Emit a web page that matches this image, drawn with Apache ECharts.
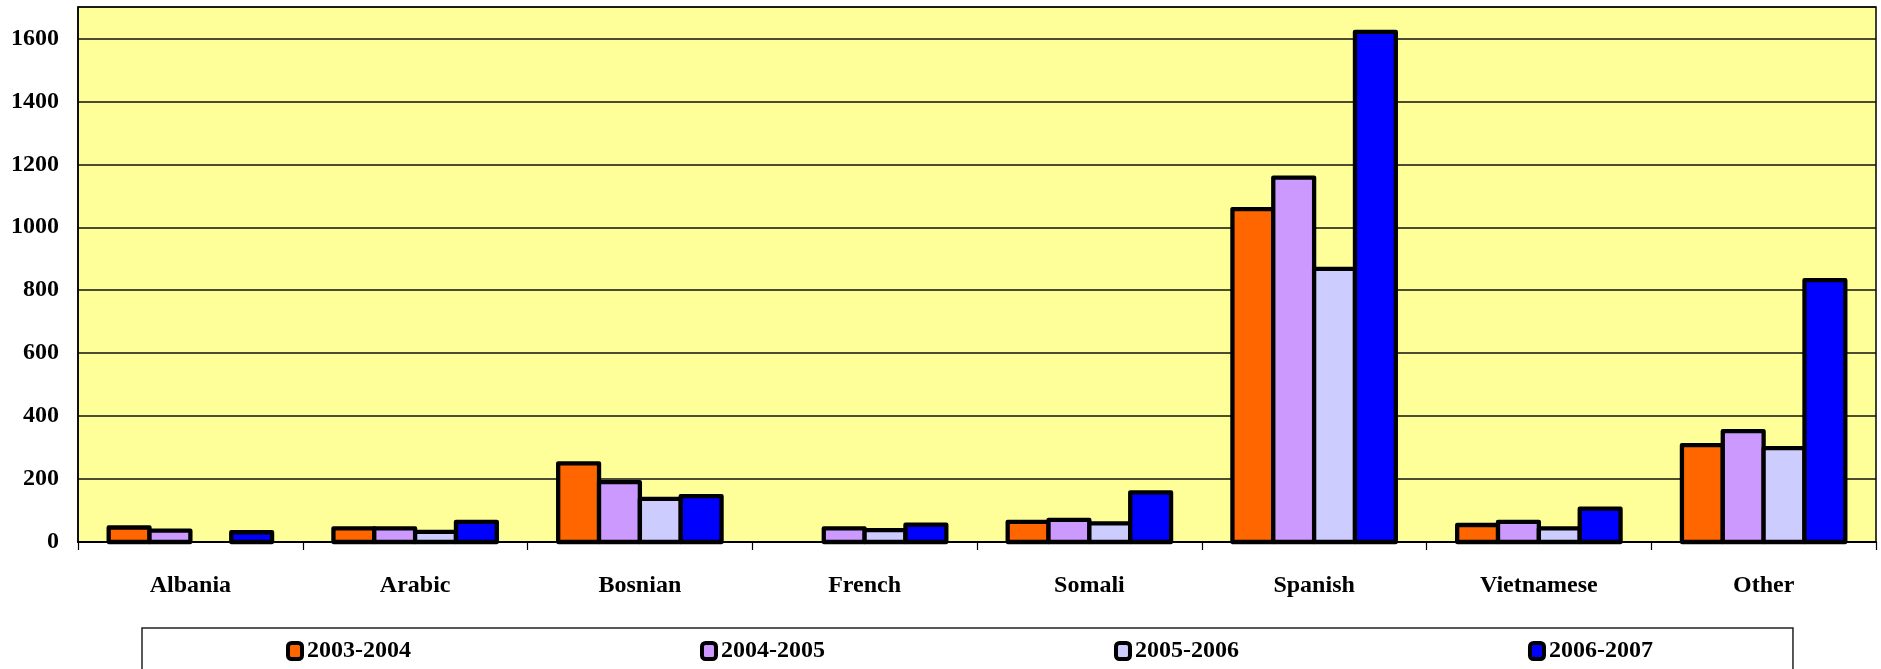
<!DOCTYPE html>
<html>
<head>
<meta charset="utf-8">
<script src="https://cdn.jsdelivr.net/npm/echarts@6/dist/echarts.min.js"></script>
<style>
html,body{margin:0;padding:0;background:#fff;}
#chart{width:1881px;height:669px;}
</style>
</head>
<body>
<div id="chart"></div>
<script>
const categories = ['Albania', 'Arabic', 'Bosnian', 'French', 'Somali', 'Spanish', 'Vietnamese', 'Other'];
const seriesNames = ['2003-2004', '2004-2005', '2005-2006', '2006-2007'];
const values2003_2004 = [46, 43, 250, null, 64, 1058, 54, 308];
const values2004_2005 = [36, 43, 190, 43, 70, 1158, 64, 352];
const values2005_2006 = [null, 32, 137, 38, 59, 868, 43, 298];
const values2006_2007 = [31, 64, 146, 55, 158, 1621, 106, 832];
const yTicks = [0, 200, 400, 600, 800, 1000, 1200, 1400, 1600];

const colors = ['#FF6600', '#CC99FF', '#CCCCFF', '#0000FF'];
const allValues = [values2003_2004, values2004_2005, values2005_2006, values2006_2007];
const font = "'Liberation Serif', 'Times New Roman', serif";
const GROUP_FRACTION = 0.727;   // share of a category band covered by the 4 bars
const BORDER = 4.3;

function makeRenderer(seriesIdx, color) {
  return function (params, api) {
    const val = api.value(1);
    if (val === null || val === undefined || isNaN(val)) return null;
    const cat = api.value(0);
    const base = api.coord([cat, 0]);
    const top = api.coord([cat, val]);
    const band = api.size([1, 0])[0];
    const groupW = band * GROUP_FRACTION;
    const barW = groupW / allValues.length;
    const x = base[0] - groupW / 2 + seriesIdx * barW;
    return {
      type: 'rect',
      shape: {x: x, y: top[1], width: barW, height: base[1] - top[1]},
      style: {fill: color, stroke: '#000', lineWidth: BORDER, lineJoin: 'round'}
    };
  };
}

const chart = echarts.init(document.getElementById('chart'), null, {renderer: 'canvas'});
chart.setOption({
  animation: false,
  grid: {
    left: 78, right: 5, top: 7, bottom: 127,
    show: true, backgroundColor: '#FFFF99', borderColor: '#000', borderWidth: 1.5
  },
  legend: {
    data: seriesNames,
    left: 142, top: 628,
    padding: [11, 140, 40, 144],
    borderColor: '#222', borderWidth: 1.5,
    itemWidth: 14, itemHeight: 16,
    itemGap: 289,
    icon: 'roundRect',
    itemStyle: {borderColor: '#000', borderWidth: 4},
    textStyle: {fontFamily: font, fontWeight: 'bold', fontSize: 24, color: '#000'}
  },
  xAxis: {
    type: 'category',
    data: categories,
    boundaryGap: true,
    axisLine: {lineStyle: {color: '#000', width: 2}},
    axisTick: {show: true, length: 8, lineStyle: {color: '#000', width: 1.2}},
    axisLabel: {fontFamily: font, fontWeight: 'bold', fontSize: 24, color: '#000', margin: 32, interval: 0}
  },
  yAxis: {
    type: 'value',
    min: 0, max: 1700, interval: 200,
    axisLine: {show: true, lineStyle: {color: '#000', width: 1.5}},
    axisTick: {show: false},
    splitLine: {show: true, lineStyle: {color: '#111', width: 1.5}},
    axisLabel: {
      fontFamily: font, fontWeight: 'bold', fontSize: 24, color: '#000', margin: 19,
      showMaxLabel: false,
      formatter: function (v) { return yTicks.indexOf(v) >= 0 ? String(v) : ''; }
    }
  },
  series: seriesNames.map(function (name, i) {
    return {
      name: name,
      type: 'custom',
      coordinateSystem: 'cartesian2d',
      encode: {x: 0, y: 1},
      data: categories.map(function (c, k) { return [k, allValues[i][k]]; }),
      itemStyle: {color: colors[i]},
      renderItem: makeRenderer(i, colors[i]),
      z: 3
    };
  })
});
</script>
</body>
</html>
